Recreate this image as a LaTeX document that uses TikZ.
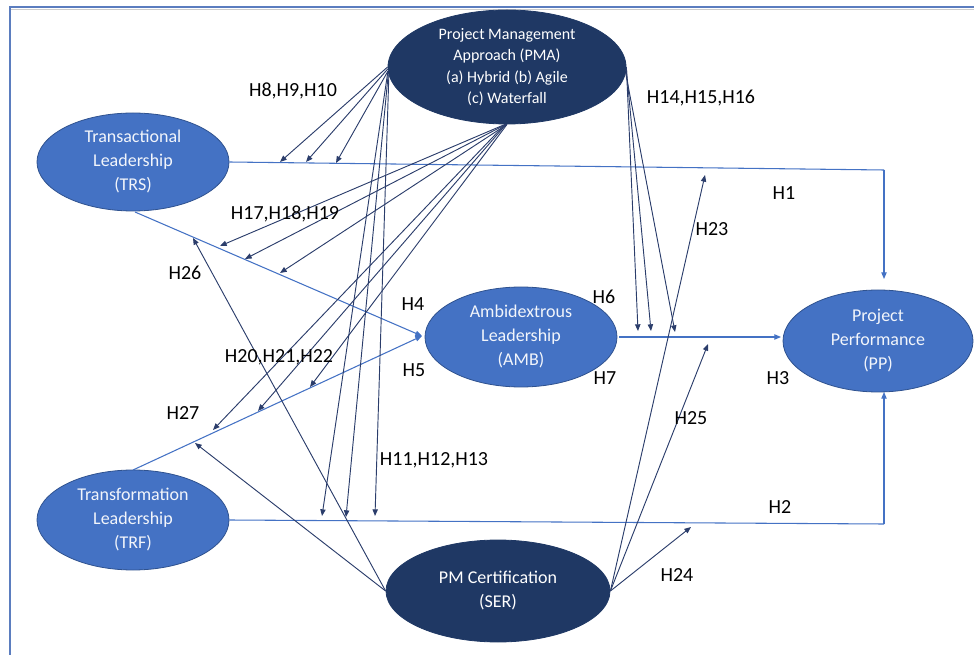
\documentclass[tikz,border=0pt]{standalone}
\usepackage{fontspec}
\setmainfont{Carlito}
\usetikzlibrary{arrows.meta,shapes.geometric}
\definecolor{midblue}{HTML}{4472C4}
\definecolor{edgeblue}{HTML}{2F528F}
\definecolor{navy}{HTML}{1F3864}
\definecolor{darkline}{HTML}{2B3D6B}
\definecolor{framecol}{HTML}{5B7DBF}
\definecolor{nodetext}{HTML}{F2F5FB}
\tikzset{
  lightnode/.style={ellipse, fill=midblue, draw=edgeblue, line width=0.6pt, inner sep=0pt,
    text=nodetext, align=center, font=\fontsize{13.5}{18}\selectfont},
  darknode/.style={ellipse, fill=navy, draw=navy, line width=0.6pt, inner sep=0pt,
    text=white, align=center},
  bl/.style={draw=midblue, line width=0.8pt, -{Triangle[length=5pt,width=4pt]}},
  blplain/.style={draw=midblue, line width=0.8pt},
  dk/.style={draw=darkline, line width=0.7pt, -{Triangle[length=5pt,width=4pt]}, color=darkline},
  hlab/.style={font=\fontsize{15}{18}\selectfont, text=black, inner sep=0pt}
}
\begin{document}
\begin{tikzpicture}[x=0.75pt, y=-0.75pt]
\useasboundingbox (0,0) rectangle (974,655);
% frame
\draw[gray!40, line width=1pt] (11,9.5) -- (974,9.5);
\draw[framecol, line width=1.6pt] (10,655) -- (10,7) -- (974,7);

% nodes
\node[darknode, minimum width=178.5pt, minimum height=85.5pt, font=\fontsize{12}{16}\selectfont] (PMA) at (507,67)
  {Project Management\\Approach (PMA)\\(a) Hybrid (b) Agile\\(c) Waterfall};
\node[lightnode, minimum width=144pt, minimum height=73.5pt] (TRS) at (133,162)
  {Transactional\\Leadership\\(TRS)};
\node[lightnode, minimum width=144pt, minimum height=75pt] (TRF) at (133,520)
  {Transformation\\Leadership\\(TRF)};
\node[lightnode, minimum width=144pt, minimum height=75pt] (AMB) at (521,337)
  {Ambidextrous\\Leadership\\(AMB)};
\node[lightnode, minimum width=142.5pt, minimum height=76.5pt] (PP) at (878,341)
  {Project\\Performance\\(PP)};
\node[darknode, minimum width=168pt, minimum height=76.5pt, font=\fontsize{13.5}{18}\selectfont] (SER) at (498,591)
  {PM Certification\\(SER)};

% coordinates
\coordinate (h1c) at (884,170);
\coordinate (h1e) at (884,279);
\coordinate (h2c) at (884,524);
\coordinate (h2e) at (884,392);
\coordinate (trsb) at (135,212);
\coordinate (trft) at (133,470);
\coordinate (ambw) at (422,336);
\coordinate (ambe) at (619,337);
\coordinate (ppw) at (781,337);

% main blue connectors
\draw[blplain] (TRS.east) -- (h1c);
\draw[bl] (h1c) -- (h1e);
\draw[blplain] (TRF.east) -- (h2c);
\draw[bl] (h2c) -- (h2e);
\draw[bl] (ambe) -- (ppw);
\draw[bl] (trsb) -- (ambw);
\draw[bl] (trft) -- (ambw);

% targets
\coordinate (t8) at (280,162);
\coordinate (t9) at (306,162);
\coordinate (t10) at (336,163);
\coordinate (t11) at (322,516);
\coordinate (t12) at (346,517);
\coordinate (t13) at (375,516);
\coordinate (t14) at (638,331);
\coordinate (t15) at (651,331);
\coordinate (t16) at (675,332);
\coordinate (t17) at (220,246);
\coordinate (t18) at (245,259);
\coordinate (t19) at (280,273);
\coordinate (t20) at (213,430);
\coordinate (t21) at (258,411);
\coordinate (t22) at (310,387);
\coordinate (t23) at (705,175);
\coordinate (t24) at (691,527);
\coordinate (t25) at (708,344);
\coordinate (t26) at (193,238);
\coordinate (t27) at (195,443);

% PMA connectors
\draw[dk] (PMA.180.5) -- (t8);
\draw[dk] (PMA.181.5) -- (t9);
\draw[dk] (PMA.182.5) -- (t10);
\draw[dk] (PMA.182) -- (t11);
\draw[dk] (PMA.183) -- (t12);
\draw[dk] (PMA.184) -- (t13);
\draw[dk] (PMA.-0.5) -- (t14);
\draw[dk] (PMA.-1.5) -- (t15);
\draw[dk] (PMA.-3) -- (t16);
\draw[dk] (PMA.268) -- (t17);
\draw[dk] (PMA.269) -- (t18);
\draw[dk] (PMA.270) -- (t19);
\draw[dk] (PMA.268.5) -- (t20);
\draw[dk] (PMA.269.5) -- (t21);
\draw[dk] (PMA.270.5) -- (t22);

% SER connectors
\draw[dk] (SER.east) -- (t23);
\draw[dk] (SER.east) -- (t24);
\draw[dk] (SER.east) -- (t25);
\draw[dk] (SER.west) -- (t26);
\draw[dk] (SER.west) -- (t27);

% labels
\node[hlab] (l8) at (293,91) {H8,H9,H10};
\node[hlab] (l14) at (701,98) {H14,H15,H16};
\node[hlab] (l1) at (784,193) {H1};
\node[hlab] (l23) at (712,229) {H23};
\node[hlab] (l17) at (285,214) {H17,H18,H19};
\node[hlab] (l26) at (185,273) {H26};
\node[hlab] (l4) at (413,304) {H4};
\node[hlab] (l6) at (604,297) {H6};
\node[hlab] (l5) at (414,370) {H5};
\node[hlab] (l7) at (605,378) {H7};
\node[hlab] (l20) at (279,357) {H20,H21,H22};
\node[hlab] (l3) at (778,378) {H3};
\node[hlab] (l27) at (183,413) {H27};
\node[hlab] (l25) at (691,418) {H25};
\node[hlab] (l11) at (434,460) {H11,H12,H13};
\node[hlab] (l2) at (780,507) {H2};
\node[hlab] (l24) at (677,575) {H24};
\end{tikzpicture}
\end{document}
